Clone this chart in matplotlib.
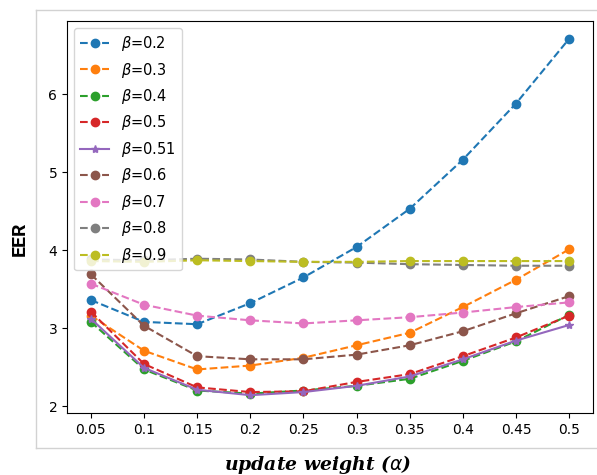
import matplotlib
matplotlib.use("Agg")
import matplotlib.pyplot as plt
from matplotlib.lines import Line2D

# update weight (alpha) values on the x axis
alpha = [0.05, 0.1, 0.15, 0.2, 0.25, 0.3, 0.35, 0.4, 0.45, 0.5]
x_labels = ["0.05", "0.1", "0.15", "0.2", "0.25", "0.3", "0.35", "0.4", "0.45", "0.5"]

# EER for each beta
eer_b02 = [3.36, 3.08, 3.05, 3.32, 3.65, 4.04, 4.53, 5.16, 5.88, 6.71]
eer_b03 = [3.16, 2.71, 2.47, 2.52, 2.62, 2.78, 2.94, 3.27, 3.62, 4.01]
eer_b04 = [3.08, 2.47, 2.20, 2.16, 2.20, 2.26, 2.35, 2.58, 2.83, 3.17]
eer_b05 = [3.21, 2.54, 2.24, 2.18, 2.19, 2.31, 2.41, 2.64, 2.88, 3.16]
eer_b051 = [3.12, 2.49, 2.21, 2.14, 2.18, 2.26, 2.38, 2.60, 2.84, 3.04]
eer_b06 = [3.69, 3.03, 2.64, 2.60, 2.60, 2.66, 2.78, 2.96, 3.19, 3.41]
eer_b07 = [3.57, 3.30, 3.16, 3.10, 3.06, 3.10, 3.14, 3.20, 3.27, 3.33]
eer_b08 = [3.88, 3.87, 3.89, 3.88, 3.85, 3.84, 3.82, 3.81, 3.80, 3.80]
eer_b09 = [3.86, 3.85, 3.87, 3.86, 3.85, 3.85, 3.86, 3.86, 3.86, 3.86]

series = [
    ("0.2", eer_b02, "o", "--"),
    ("0.3", eer_b03, "o", "--"),
    ("0.4", eer_b04, "o", "--"),
    ("0.5", eer_b05, "o", "--"),
    ("0.51", eer_b051, "*", "-"),
    ("0.6", eer_b06, "o", "--"),
    ("0.7", eer_b07, "o", "--"),
    ("0.8", eer_b08, "o", "--"),
    ("0.9", eer_b09, "o", "--"),
]

fig = plt.figure(figsize=(5.97, 4.75), dpi=100)
ax = fig.add_axes([67 / 597, 1 - 413 / 475, (593 - 67) / 597, (413 - 21) / 475])

for beta, vals, mk, ls in series:
    ax.plot(alpha, vals, marker=mk, linestyle=ls, label=r"$\beta$=" + beta)

ax.set_xticks(alpha)
ax.set_xticklabels(x_labels)
ax.set_yticks([2, 3, 4, 5, 6])
ax.tick_params(labelsize=10)
ax.legend(loc="upper left", fontsize=10.5, labelspacing=0.51)

# outer frame of the pasted figure
frame_col = "#d2d2d2"
fig.add_artist(Line2D([36 / 597, 36 / 597], [1 - 448 / 475, 1 - 10 / 475], color=frame_col, lw=1))
fig.add_artist(Line2D([36 / 597, 1], [1 - 10 / 475, 1 - 10 / 475], color=frame_col, lw=1))
fig.add_artist(Line2D([36 / 597, 1], [1 - 448 / 475, 1 - 448 / 475], color=frame_col, lw=1))

# axis titles
fig.text(20 / 597, 1 - 239 / 475, "EER", rotation=90, ha="center", va="center",
         family="Roboto", weight="bold", fontsize=14)
fig.text(318 / 597, 1 - 464 / 475, r"update weight ($\alpha$)", ha="center", va="center",
         family="DejaVu Serif", weight="bold", style="italic", fontsize=13.5)

fig.savefig("out.png", dpi=100)
